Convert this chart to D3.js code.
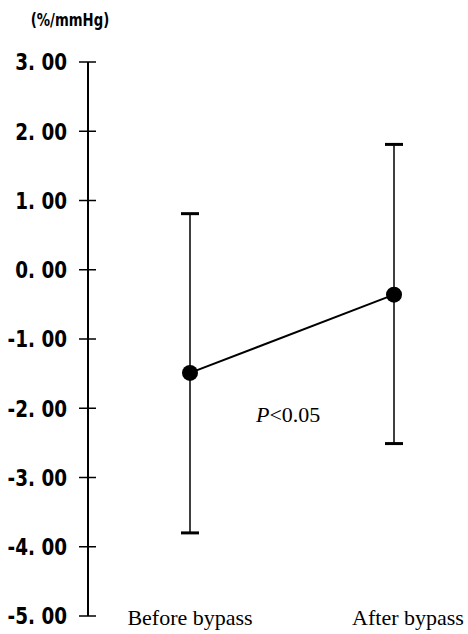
<!DOCTYPE html>
<html>
<head>
<meta charset="utf-8">
<script src="https://cdn.jsdelivr.net/npm/d3@7"></script>
<style>
  body { margin: 0; background: #fff; }
  svg { display: block; }
</style>
</head>
<body>
<div id="chart"></div>
<script>
// group names, means and error bar ends
var groups = ["Before bypass", "After bypass"];
var means = [-1.49, -0.36];
var upper = [0.81, 1.81];
var lower = [-3.80, -2.51];
var yTicks = [3, 2, 1, 0, -1, -2, -3, -4, -5];
var unitLabel = "(%/mmHg)";
var pLabel = "0.05";

var width = 468, height = 634;

var svg = d3.select("#chart")
    .append("svg")
    .attr("width", width)
    .attr("height", height);

var y = d3.scaleLinear().domain([-5, 3]).range([616, 62]);
var x = d3.scalePoint().domain(groups).range([190, 394]);

var axisX = 88;
var gothic = "DejaVu Sans, sans-serif";
var serif = "Liberation Serif, Times New Roman, serif";

// y axis, ticks cross the line
var yAxis = svg.append("g")
    .attr("transform", "translate(" + axisX + ",0)");

yAxis.append("line")
    .attr("y1", y(3)).attr("y2", y(-5))
    .attr("stroke", "#000").attr("stroke-width", 2);

yAxis.selectAll(".tk")
    .data(yTicks)
    .enter()
    .append("line")
    .attr("x1", -9).attr("x2", 8)
    .attr("y1", d => y(d)).attr("y2", d => y(d))
    .attr("stroke", "#000").attr("stroke-width", 1.5);

// narrow gothic look: squeeze the text horizontally
yAxis.selectAll(".lb")
    .data(yTicks)
    .enter()
    .append("text")
    .attr("transform", d => "translate(-21," + y(d) + ") scale(0.8,1)")
    .attr("dy", "0.36em")
    .attr("text-anchor", "end")
    .attr("font-family", gothic)
    .attr("font-weight", "bold")
    .attr("font-size", 23)
    .text(d => d3.format(".2f")(d).replace("−", "-").replace(".", ". "));

svg.append("text")
    .attr("transform", "translate(70,26) scale(0.78,1)")
    .attr("text-anchor", "middle")
    .attr("font-family", gothic)
    .attr("font-weight", "bold")
    .attr("font-size", 17)
    .text(unitLabel);

// error bars
var bars = svg.append("g");
groups.forEach(function(g, i) {
    bars.append("line")
        .attr("x1", x(g)).attr("x2", x(g))
        .attr("y1", y(upper[i])).attr("y2", y(lower[i]))
        .attr("stroke", "#000").attr("stroke-width", 1.5);
    [upper[i], lower[i]].forEach(function(v) {
        bars.append("line")
            .attr("x1", x(g) - 9).attr("x2", x(g) + 9)
            .attr("y1", y(v)).attr("y2", y(v))
            .attr("stroke", "#000").attr("stroke-width", 3);
    });
});

// mean line and dots
var line = d3.line()
    .x((d, i) => x(groups[i]))
    .y(d => y(d));

svg.append("path")
    .datum(means)
    .attr("d", line)
    .attr("fill", "none")
    .attr("stroke", "#000")
    .attr("stroke-width", 2);

svg.selectAll(".dot")
    .data(means)
    .enter()
    .append("circle")
    .attr("cx", (d, i) => x(groups[i]))
    .attr("cy", d => y(d))
    .attr("r", 8)
    .attr("fill", "#000");

// p value
var pt = svg.append("text")
    .attr("x", 256).attr("y", 422)
    .attr("font-family", serif)
    .attr("font-size", 22);
pt.append("tspan").attr("font-style", "italic").text("P");
pt.append("tspan").text("<" + pLabel);

// group labels
var labelShift = [0, 14];
svg.selectAll(".glab")
    .data(groups)
    .enter()
    .append("text")
    .attr("x", (d, i) => x(d) + labelShift[i])
    .attr("y", 625)
    .attr("text-anchor", "middle")
    .attr("font-family", serif)
    .attr("font-size", 22)
    .text(d => d);
</script>
</body>
</html>
